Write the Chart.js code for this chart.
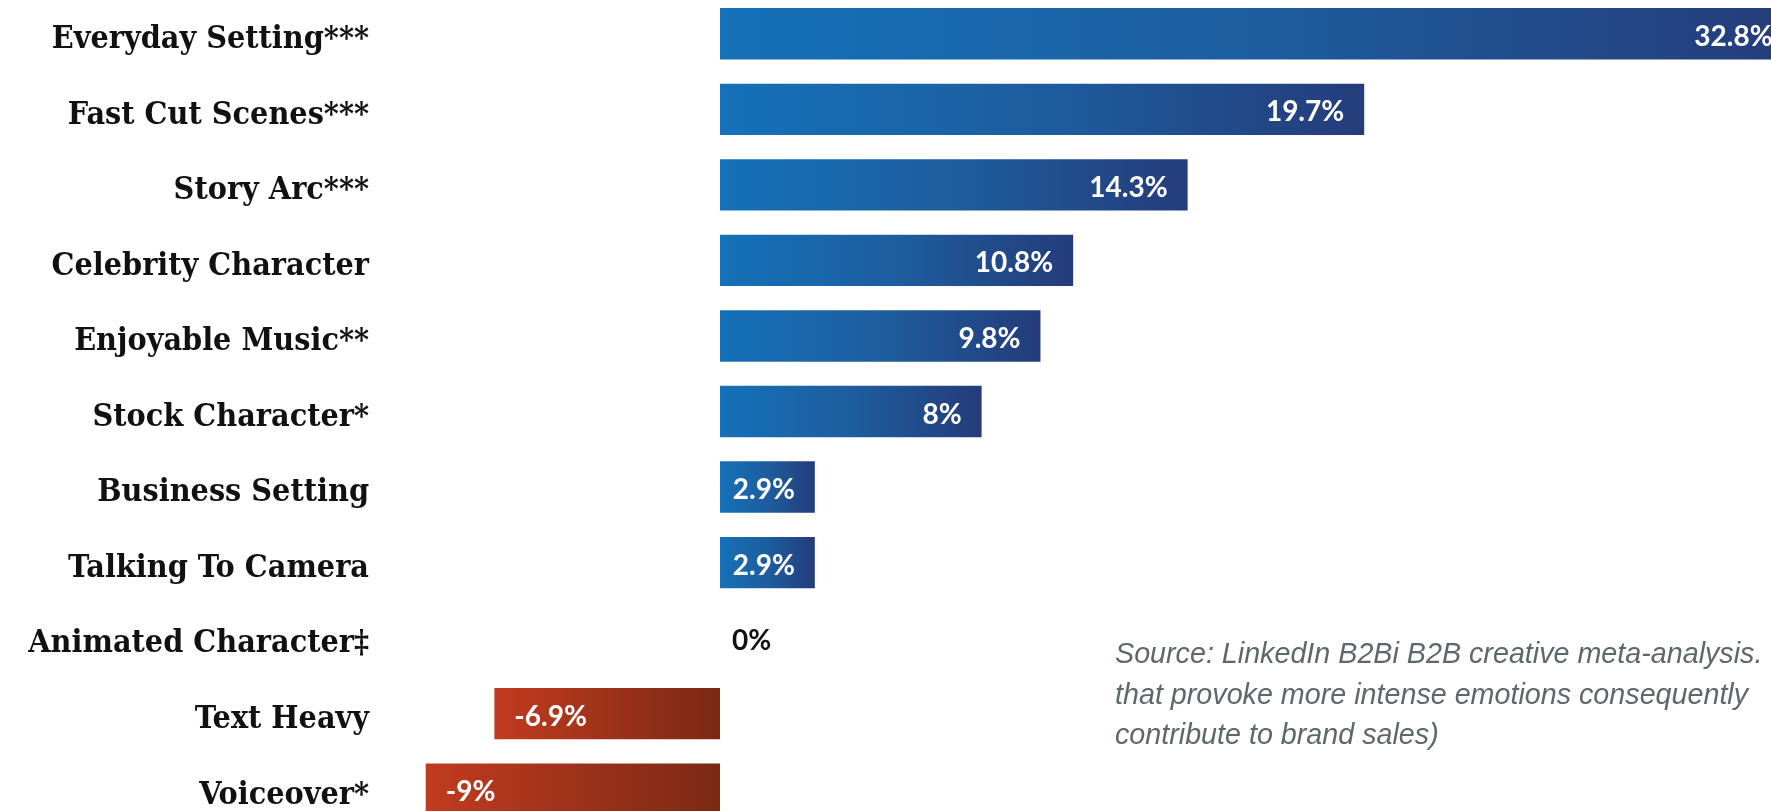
<!DOCTYPE html>
<html>
<head>
<meta charset="utf-8">
<script src="https://cdn.jsdelivr.net/npm/chart.js@4.4.1/dist/chart.umd.min.js"></script>
<style>
	html, body { margin: 0; padding: 0; background: #fff; overflow: hidden; width: 1771px; height: 811px; }
	#wrap { position: absolute; left: 0; top: -4px; width: 1771px; height: 831px; }
	#source {
		position: absolute; left: 1115px; top: 633px; white-space: nowrap;
		font-family: "Liberation Sans", Arial, sans-serif; font-style: italic;
		font-size: 28.7px; line-height: 40.6px; color: #5d686b;
	}
</style>
</head>
<body>
<div id="wrap"><canvas id="mycanvas"></canvas></div>
<div id="source">Source: LinkedIn B2Bi B2B creative meta-analysis.<br>that provoke more intense emotions consequently<br>contribute to brand sales)</div>
<script>
var categories = ["Everyday Setting***", "Fast Cut Scenes***", "Story Arc***", "Celebrity Character",
	"Enjoyable Music**", "Stock Character*", "Business Setting", "Talking To Camera",
	"Animated Character\u2021", "Text Heavy", "Voiceover*"];
var uplift = [32.8, 19.7, 14.3, 10.8, 9.8, 8, 2.9, 2.9, 0, -6.9, -9];
var valueLabels = ["32.8%", "19.7%", "14.3%", "10.8%", "9.8%", "8%", "2.9%", "2.9%", "0%", "-6.9%", "-9%"];

// each bar gets its own left->right gradient
function barFill(context){
	var chart = context.chart;
	var x = chart.scales.x;
	if (!chart.chartArea || !x) return "#1a5ea8";
	var v = context.raw;
	var p0 = x.getPixelForValue(0);
	var p1 = x.getPixelForValue(v);
	var left = Math.min(p0, p1), right = Math.max(p0, p1);
	if (right - left < 1) right = left + 1;
	var g = chart.ctx.createLinearGradient(left, 0, right, 0);
	if (v >= 0) {
		g.addColorStop(0, "#1571b8");
		g.addColorStop(0.5, "#1d5d9f");
		g.addColorStop(1, "#253c7a");
	} else {
		g.addColorStop(0, "#c13b1f");
		g.addColorStop(1, "#7b2914");
	}
	return g;
}

var barLabels = {
	id: "barLabels",
	afterDatasetsDraw: function(chart){
		var ctx = chart.ctx;
		var meta = chart.getDatasetMeta(0);
		ctx.save();
		ctx.font = "bold 28px Lato, sans-serif";
		ctx.textBaseline = "middle";
		meta.data.forEach(function(bar, i){
			var v = uplift[i];
			var y = bar.y + 3;
			if (v > 0) {
				ctx.fillStyle = "#ffffff";
				ctx.textAlign = "right";
				ctx.fillText(valueLabels[i], bar.x - 20, y);
			} else if (v < 0) {
				ctx.fillStyle = "#ffffff";
				ctx.textAlign = "left";
				ctx.fillText(valueLabels[i], bar.x + 20, y);
			} else {
				ctx.fillStyle = "#111111";
				ctx.textAlign = "left";
				ctx.fillText(valueLabels[i], bar.x + 12, y);
			}
		});
		ctx.restore();
	}
};

var ctx = document.getElementById("mycanvas");
var chart = new Chart(ctx, {
	type: "bar",
	data: {
		labels: categories,
		datasets: [{
			label: "Uplift",
			data: uplift,
			backgroundColor: barFill,
			borderWidth: 0,
			categoryPercentage: 1,
			barPercentage: 0.68
		}]
	},
	options: {
		indexAxis: "y",
		responsive: true,
		maintainAspectRatio: false,
		animation: false,
		layout: { padding: 0 },
		plugins: {
			legend: { display: false },
			tooltip: { enabled: false }
		},
		scales: {
			x: {
				display: false,
				min: -9.786,
				max: 32.14
			},
			y: {
				border: { display: false },
				grid: { display: false, drawTicks: false },
				ticks: {
					padding: 31,
					color: "#111111",
					font: { family: "'DejaVu Serif Condensed', 'DejaVu Serif', serif", size: 32, weight: "bold", lineHeight: 0.375 },
					// empty first line nudges the label down a few px
					callback: function(value){ return ["", this.getLabelForValue(value)]; }
				},
				afterFit: function(scale){
					scale.width = 400;
					scale.paddingTop = 0;
					scale.paddingBottom = 0;
				}
			}
		}
	},
	plugins: [barLabels]
});
</script>
</body>
</html>
